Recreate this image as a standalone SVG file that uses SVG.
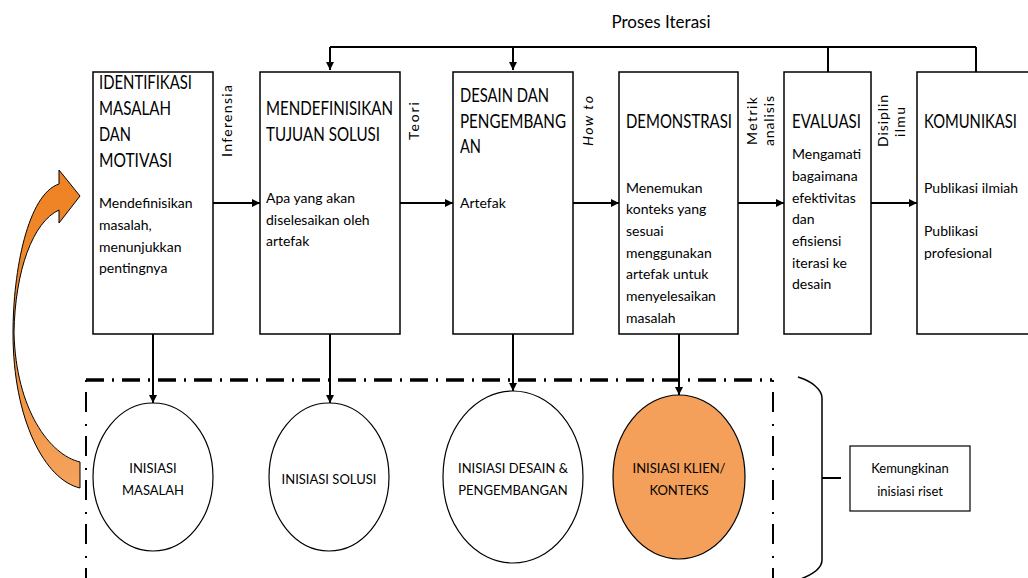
<svg xmlns="http://www.w3.org/2000/svg" width="1028" height="578" viewBox="0 0 1028 578">
<defs>
<marker id="ah" viewBox="0 0 10 10" refX="10" refY="5" markerWidth="8" markerHeight="8" markerUnits="userSpaceOnUse" orient="auto">
<path d="M0,0 L10,5 L0,10 z" fill="#000"/>
</marker>
<linearGradient id="og" x1="0" y1="0" x2="0" y2="1">
<stop offset="0" stop-color="#EE8223"/>
<stop offset="0.5" stop-color="#F08C33"/>
<stop offset="1" stop-color="#F5A35F"/>
</linearGradient>
<style>
.box{fill:#fff;stroke:#000;stroke-width:1.5}
.ell{fill:#fff;stroke:#000;stroke-width:1.2}
.t{font-family:Lato,"Liberation Sans",sans-serif;fill:#000}
.title{font-size:19px}
.body{font-size:14px}
.sm{font-size:13px}
.lab{font-size:14px;text-anchor:middle}
.c{text-anchor:middle}
.ln{fill:none;stroke:#000;stroke-width:2}
.thin{fill:none;stroke:#000;stroke-width:1.5}
</style>
</defs>
<rect width="1028" height="578" fill="#fff"/>

<g id="connectors">
<path class="ln" d="M330,47 H976"/>
<path class="ln" d="M330,47 V70" marker-end="url(#ah)"/>
<path class="ln" d="M513,47 V70" marker-end="url(#ah)"/>
<path class="ln" d="M828,47 V72"/>
<path class="ln" d="M976,47 V72"/>
<path class="ln" d="M213,203 H260" marker-end="url(#ah)"/>
<path class="ln" d="M400,203 H453" marker-end="url(#ah)"/>
<path class="ln" d="M573,203 H619" marker-end="url(#ah)"/>
<path class="ln" d="M738,203 H784" marker-end="url(#ah)"/>
<path class="ln" d="M871,203 H917" marker-end="url(#ah)"/>
<path class="ln" d="M153,334 V403" marker-end="url(#ah)"/>
<path class="ln" d="M330,334 V403" marker-end="url(#ah)"/>
<path class="ln" d="M513,334 V391" marker-end="url(#ah)"/>
<path class="ln" d="M679,334 V395" marker-end="url(#ah)"/>
<path class="ln" d="M822,478 H841"/>
</g>

<text class="t c" font-size="17" x="661" y="28">Proses Iterasi</text>

<g id="n1">
<rect class="box" x="93" y="72" width="120" height="262"/>
<text class="t title" x="99" y="89" textLength="93" lengthAdjust="spacingAndGlyphs">IDENTIFIKASI</text>
<text class="t title" x="99" y="115" textLength="72" lengthAdjust="spacingAndGlyphs">MASALAH</text>
<text class="t title" x="99" y="141" textLength="32" lengthAdjust="spacingAndGlyphs">DAN</text>
<text class="t title" x="99" y="167" textLength="73" lengthAdjust="spacingAndGlyphs">MOTIVASI</text>
<text class="t body" x="99" y="208">Mendefinisikan</text>
<text class="t body" x="99" y="230">masalah,</text>
<text class="t body" x="99" y="252">menunjukkan</text>
<text class="t body" x="99" y="273">pentingnya</text>
</g>
<text class="t lab" transform="translate(232,121) rotate(-90)" textLength="72">Inferensia</text>

<g id="n2">
<rect class="box" x="260" y="72" width="140" height="262"/>
<text class="t title" x="266" y="115" textLength="127" lengthAdjust="spacingAndGlyphs">MENDEFINISIKAN</text>
<text class="t title" x="266" y="141" textLength="114" lengthAdjust="spacingAndGlyphs">TUJUAN SOLUSI</text>
<text class="t body" x="266" y="203">Apa yang akan</text>
<text class="t body" x="266" y="225">diselesaikan oleh</text>
<text class="t body" x="266" y="246">artefak</text>
</g>
<text class="t lab" transform="translate(419,121) rotate(-90)" textLength="38">Teori</text>

<g id="n3">
<rect class="box" x="453" y="72" width="120" height="262"/>
<text class="t title" x="460" y="102" textLength="89" lengthAdjust="spacingAndGlyphs">DESAIN DAN</text>
<text class="t title" x="460" y="128" textLength="106" lengthAdjust="spacingAndGlyphs">PENGEMBANG</text>
<text class="t title" x="460" y="153" textLength="21" lengthAdjust="spacingAndGlyphs">AN</text>
<text class="t body" x="460" y="208">Artefak</text>
</g>
<text class="t lab" font-style="italic" transform="translate(593,121) rotate(-90)" textLength="50">How to</text>

<g id="n4">
<rect class="box" x="619" y="72" width="119" height="262"/>
<text class="t title" x="626" y="128" textLength="106" lengthAdjust="spacingAndGlyphs">DEMONSTRASI</text>
<text class="t body" x="626" y="193">Menemukan</text>
<text class="t body" x="626" y="214">konteks yang</text>
<text class="t body" x="626" y="236">sesuai</text>
<text class="t body" x="626" y="258">menggunakan</text>
<text class="t body" x="626" y="279">artefak untuk</text>
<text class="t body" x="626" y="301">menyelesaikan</text>
<text class="t body" x="626" y="323">masalah</text>
</g>
<text class="t lab" transform="translate(757,121) rotate(-90)" textLength="48">Metrik</text>
<text class="t lab" transform="translate(774,121) rotate(-90)" textLength="50">analisis</text>

<g id="n5">
<rect class="box" x="784" y="72" width="87" height="262"/>
<text class="t title" x="792" y="128" textLength="69" lengthAdjust="spacingAndGlyphs">EVALUASI</text>
<text class="t body" x="792" y="159">Mengamati</text>
<text class="t body" x="792" y="181">bagaimana</text>
<text class="t body" x="792" y="203">efektivitas</text>
<text class="t body" x="792" y="224">dan</text>
<text class="t body" x="792" y="246">efisiensi</text>
<text class="t body" x="792" y="268">iterasi ke</text>
<text class="t body" x="792" y="289">desain</text>
</g>
<text class="t lab" transform="translate(888,121) rotate(-90)" textLength="52">Disiplin</text>
<text class="t lab" transform="translate(905,122) rotate(-90)" textLength="30">ilmu</text>

<g id="n6">
<rect class="box" x="917" y="72" width="120" height="262"/>
<text class="t title" x="924" y="128" textLength="93" lengthAdjust="spacingAndGlyphs">KOMUNIKASI</text>
<text class="t body" x="924" y="193">Publikasi ilmiah</text>
<text class="t body" x="924" y="236">Publikasi</text>
<text class="t body" x="924" y="258">profesional</text>
</g>

<g id="curved-arrow">
<path d="M80,196 L59,170 L59,184 C28,194 13,270 13,333 C13,420 45,480 80,488 L80,462 C50,455 16,410 14,333 C15,270 33,222 59,210 L59,223 Z" fill="url(#og)" stroke="#000" stroke-width="1"/>
</g>

<g id="group-frame">
<path d="M86,380 H772" fill="none" stroke="#000" stroke-width="3.5" stroke-dasharray="18 8 2 8"/>
<path d="M86,380 V578" fill="none" stroke="#000" stroke-width="2" stroke-dasharray="2 10 20 12"/>
<path d="M773,380 V578" fill="none" stroke="#000" stroke-width="2" stroke-dasharray="2 10 20 12"/>
</g>

<g id="e1">
<ellipse class="ell" cx="153" cy="477" rx="60" ry="74"/>
<text class="t sm c" x="153" y="473">INISIASI</text>
<text class="t sm c" x="153" y="495">MASALAH</text>
</g>
<g id="e2">
<ellipse class="ell" cx="329" cy="477" rx="60" ry="74"/>
<text class="t sm c" x="329" y="484">INISIASI SOLUSI</text>
</g>
<g id="e3">
<ellipse class="ell" cx="513" cy="477" rx="70" ry="86"/>
<text class="t sm c" x="513" y="473">INISIASI DESAIN &amp;</text>
<text class="t sm c" x="513" y="495">PENGEMBANGAN</text>
</g>
<g id="e4">
<ellipse class="ell" cx="679" cy="477" rx="66" ry="82" style="fill:#F4A05A"/>
<text class="t sm c" x="679" y="473">INISIASI KLIEN/</text>
<text class="t sm c" x="679" y="495">KONTEKS</text>
</g>

<g id="bracket">
<path class="thin" d="M798,377 C812,381 822,390 822,398 V560 C822,568 812,575 798,580"/>
</g>

<g id="n7">
<rect class="box" x="850" y="446" width="120" height="65" style="stroke-width:1.2"/>
<text class="t sm c" x="910" y="473">Kemungkinan</text>
<text class="t sm c" x="910" y="496">inisiasi riset</text>
</g>
</svg>
